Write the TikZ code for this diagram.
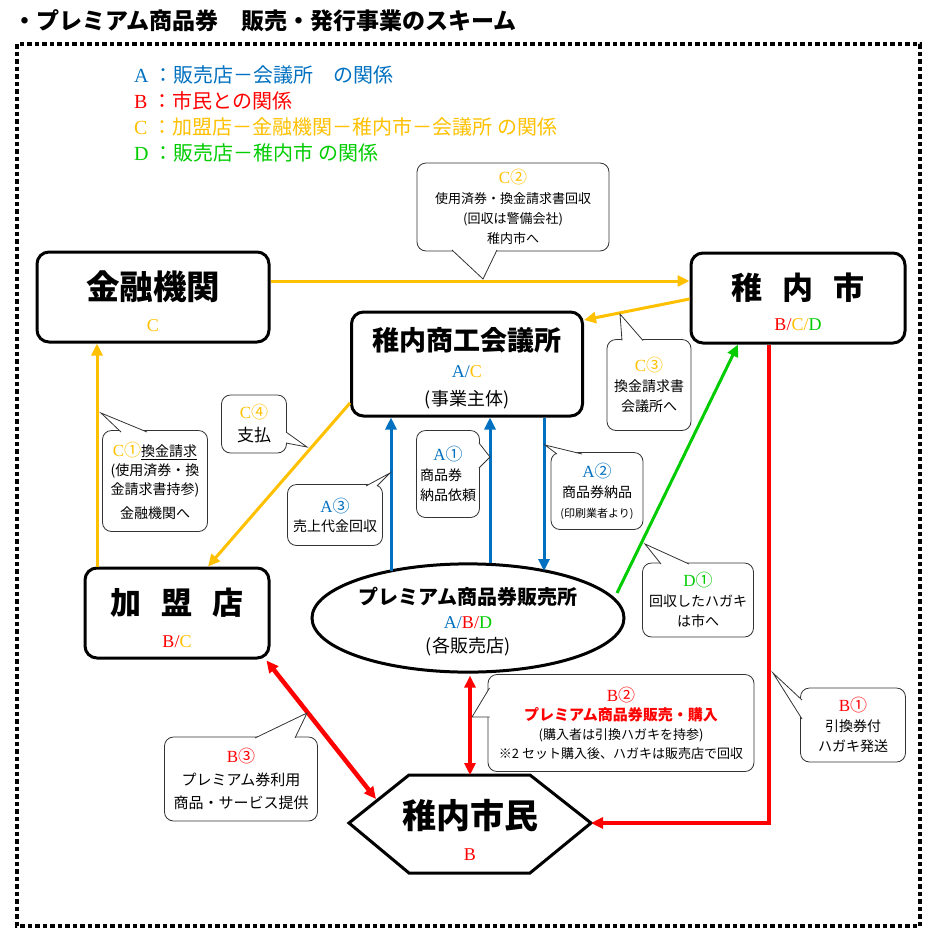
\documentclass[tikz,border=0pt]{standalone}
\usepackage{fontspec}
\setmainfont{Liberation Serif}
\newfontfamily\jp{Noto Sans CJK JP}
\usetikzlibrary{arrows.meta,calc,shapes.geometric}
\definecolor{ablue}{RGB}{0,112,192}
\definecolor{bred}{RGB}{255,0,0}
\definecolor{corange}{RGB}{255,192,0}
\definecolor{dgreen}{RGB}{0,204,0}
\newcommand{\lat}[1]{{\rmfamily #1}}
\newcommand{\fsz}[2]{\fontsize{#1}{#2}\selectfont}
\begin{document}
\begin{tikzpicture}[x=1pt,y=-1pt,
  box/.style={draw, line width=3pt, rounded corners=12pt, align=center, inner sep=0pt},
  bubble/.style={draw=black!80, line width=0.8pt, rounded corners=9pt, fill=white, align=center, inner sep=0pt, font=\jp\fsz{14}{20}},
  tail/.style={draw=black!80, line width=0.8pt, fill=white},
  legend/.style={anchor=west, inner sep=0pt, font=\jp\fsz{20}{22}},
  tip/.style={-{Triangle[length=12pt,width=11pt]}},
  oarrow/.style={tip, corange, line width=3pt},
  barrow/.style={tip, ablue, line width=3pt},
  garrow/.style={tip, dgreen, line width=3pt},
  rarrow/.style={tip, bred, line width=4.5pt},
  rboth/.style={{Triangle[length=12pt,width=11pt]}-{Triangle[length=12pt,width=11pt]}, bred, line width=4.5pt}]
\useasboundingbox (0,0) rectangle (934,938);

% title and frame
\node[anchor=west, inner sep=0pt, font=\jp\bfseries\fsz{23}{26}] (title) at (13,21) {・プレミアム商品券　販売・発行事業のスキーム};
\draw[line width=4.5pt, dash pattern=on 4.5pt off 3pt] (17,44) rectangle (920,926);

% legend
\node[legend, ablue] (legA) at (134,75) {\lat{A}\hspace{0.25em}：販売店－会議所　の関係};
\node[legend, bred] (legB) at (134,101) {\lat{B}\hspace{0.25em}：市民との関係};
\node[legend, corange] (legC) at (134,127) {\lat{C}\hspace{0.25em}：加盟店－金融機関－稚内市－会議所 の関係};
\node[legend, dgreen] (legD) at (134,153) {\lat{D}\hspace{0.25em}：販売店－稚内市 の関係};

% main parties
\node[box, font=\jp\fsz{18}{32}, minimum width=232pt, minimum height=90pt] (bank) at (153,297)
  {{\fsz{33.5}{32}\bfseries\rule{0pt}{38pt}金融機関}\\{\color{corange}\lat{C}}};
\node[box, font=\jp\fsz{18}{31}, minimum width=214pt, minimum height=90pt] (city) at (798,298)
  {{\fsz{31}{32}\bfseries\rule{0pt}{34pt}稚\hspace{0.65em}内\hspace{0.65em}市}\\{\color{bred}\lat{B/}\color{corange}\lat{C/}\color{dgreen}\lat{D}}};
\node[box, font=\jp\fsz{18}{27.5}, minimum width=231pt, minimum height=104pt] (cci) at (467,364)
  {{\fsz{27}{28}\bfseries\rule{0pt}{31pt}稚内商工会議所}\\{\color{ablue}\lat{A/}\color{corange}\lat{C}}\\(事業主体)};
\node[box, font=\jp\fsz{18}{33}, minimum width=184pt, minimum height=90pt] (shop) at (177,613)
  {{\fsz{31}{32}\bfseries\rule{0pt}{36pt}加\hspace{0.65em}盟\hspace{0.65em}店}\\{\color{bred}\lat{B/}\color{corange}\lat{C}}};
\node[draw, ellipse, line width=3pt, minimum width=312pt, minimum height=108pt, inner sep=0pt, align=center, font=\jp\fsz{18}{24}] (sales) at (468,618)
  {{\fsz{20}{24}\bfseries\rule{0pt}{25pt}プレミアム商品券販売所}\\{\color{ablue}\lat{A/}\color{bred}\lat{B/}\color{dgreen}\lat{D}}\\(各販売店)};
\draw[line width=3pt, line join=miter] (349,823) -- (409,775) -- (530,775) -- (591,823) -- (530,873) -- (409,873) -- cycle;
\node[align=center, inner sep=0pt, font=\jp\fsz{18}{32}] (citizen) at (470,830)
  {{\fsz{34}{32}\bfseries 稚内市民}\\{\color{bred}\lat{B}}};

% flows
\path[draw,oarrow] ($(bank.east)+(0,-16)$) -- ($(city.west)+(0,-17)$);
\path[draw,oarrow] ($(city.west)+(0,1)$) -- ($(cci.east)+(0,-44)$);
\path[draw,oarrow] ($(cci.west)+(0,39)$) -- ($(shop.north)+(31,0)$);
\path[draw,oarrow] ($(shop.north)+(-80,0)$) -- ($(bank.south)+(-56,0)$);
\path[draw,barrow] ($(sales.center)+(-77,-47)$) -- ($(cci.south)+(-76,0)$);
\path[draw,barrow] ($(sales.north)+(22,1)$) -- ($(cci.south)+(23,0)$);
\path[draw,barrow] ($(cci.south)+(77,0)$) -- ($(sales.center)+(76,-47)$);
\path[draw,garrow] ($(sales.center)+(149,-25)$) -- ($(city.south)+(-60,0)$);
\path[draw,rarrow] ($(city.south)+(-29,0)$) |- ($(citizen)+(121,-7)$);
\path[draw,rboth] ($(sales.south)+(2,2)$) -- ($(citizen)+(0,-55)$);
\path[draw,rboth] ($(shop.south east)+(-4,1)$) -- ($(citizen)+(-94,-31)$);

% callouts
\node[bubble, font=\jp\fsz{13}{20}, minimum width=192pt, minimum height=88pt] (cTwo) at (513,207)
  {{\fsz{17}{20}\color{corange}\lat{C}②}\\使用済券・換金請求書回収\\(回収は警備会社)\\稚内市へ};
\filldraw[tail] (452,250) -- (483,279) -- (497,250);
\node[bubble, minimum width=84pt, minimum height=91pt] (cThree) at (649,385)
  {{\fsz{17}{20}\color{corange}\lat{C}③}\\換金請求書\\会議所へ};
\filldraw[tail] (622,340.5) -- (620,314) -- (643,340.5);
\node[bubble, font=\jp\fsz{17}{23}, minimum width=65pt, minimum height=58pt] (cFour) at (254,424)
  {{\color{corange}\lat{C}④}\\支払};
\filldraw[tail] (286,432) -- (307,447) -- (286,443);
\node[bubble, font=\jp\fsz{14}{19}, minimum width=105pt, minimum height=101pt] (cOne) at (155,481)
  {{\fsz{17}{20}\color{corange}\lat{C}①}\underline{換金請求}\\(使用済券・換\\金請求書持参)\\[5pt]金融機関へ};
\filldraw[tail] (121,432) -- (101,413) -- (147,432);
\node[bubble, font=\jp\fsz{14}{19}, minimum width=95pt, minimum height=61pt] (aThree) at (335,515)
  {{\fsz{17}{20}\color{ablue}\lat{A}③}\\売上代金回収};
\filldraw[tail] (366,486) -- (390,473) -- (377,486);
\node[bubble, minimum width=63pt, minimum height=87pt] (aOne) at (448,474)
  {{\fsz{17}{20}\color{ablue}\lat{A}①}\\商品券\phantom{頼}\\納品依頼};
\filldraw[tail] (479,443) -- (490,457) -- (479,468);
\node[bubble, font=\jp\fsz{14}{20}, minimum width=92pt, minimum height=77pt] (aTwo) at (597,491)
  {{\fsz{17}{20}\color{ablue}\lat{A}②}\\商品券納品\\{\fsz{11}{15}(印刷業者より)}};
\filldraw[tail] (557,454) -- (545,445) -- (582,454);
\node[bubble, minimum width=111pt, minimum height=74pt] (dOne) at (698,600)
  {{\fsz{17}{20}\color{dgreen}\lat{D}①}\\回収したハガキ\\は市へ};
\filldraw[tail] (661,564) -- (645,544) -- (689,564);
\node[bubble, minimum width=105pt, minimum height=74pt] (bOne) at (853,725)
  {{\fsz{17}{20}\color{bred}\lat{B}①}\\引換券付\\ハガキ発送};
\filldraw[tail] (802,700) -- (773,673) -- (802,719);
\node[bubble, font=\jp\fsz{13}{19}, minimum width=266pt, minimum height=97pt] (bTwo) at (621,723)
  {{\fsz{17}{20}\color{bred}\lat{B}②}\\{\fsz{15}{22}\bfseries\color{bred}プレミアム商品券販売・購入}\\(購入者は引換ハガキを持参)\\※2 セット購入後、ハガキは販売店で回収};
\filldraw[tail] (489.5,688) -- (472,717) -- (489.5,717);
\node[bubble, font=\jp\fsz{15}{23}, minimum width=153pt, minimum height=84pt] (bThree) at (241,779)
  {{\fsz{17}{20}\color{bred}\lat{B}③}\\プレミアム券利用\\商品・サービス提供};
\filldraw[tail] (255,738) -- (307,713) -- (295,738);
\end{tikzpicture}
\end{document}
